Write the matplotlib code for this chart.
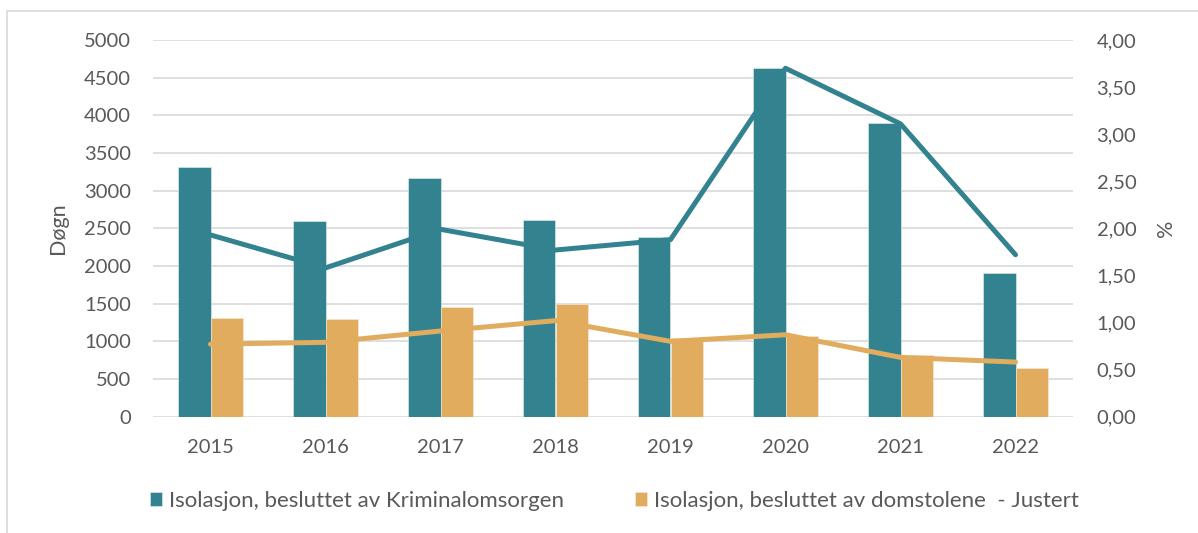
import matplotlib
matplotlib.use("Agg")
import matplotlib.pyplot as plt
from matplotlib.patches import Rectangle
from matplotlib.ticker import FuncFormatter, MultipleLocator
import numpy as np

years = ["2015", "2016", "2017", "2018", "2019", "2020", "2021", "2022"]
kriminal_days = [3310, 2595, 3170, 2615, 2385, 4625, 3895, 1910]
domstol_days = [1305, 1300, 1450, 1500, 1040, 1075, 820, 645]
kriminal_pct = [1.93, 1.58, 1.99, 1.77, 1.88, 3.70, 3.11, 1.72]
domstol_pct = [0.77, 0.79, 0.91, 1.02, 0.80, 0.87, 0.63, 0.58]

label_k = "Isolasjon, besluttet av Kriminalomsorgen"
label_d = "Isolasjon, besluttet av domstolene  - Justert"

teal = "#32838F"
orange = "#E2AC5E"
txt = "#595959"
grid = "#D9D9D9"

plt.rcParams["font.family"] = ["Lato", "DejaVu Sans"]

fig = plt.figure(figsize=(11.98, 5.33), dpi=100)
fig.patches.append(Rectangle((7/1198, -0.1), 1.2, 1 - 11/533 + 0.1, transform=fig.transFigure,
                             fill=False, edgecolor=grid, linewidth=1.2))
ax = fig.add_axes([153/1198, 116.3/533, 920/1198, 376.7/533])
ax2 = ax.twinx()

x = np.arange(len(years))
w = 0.285
ax.bar(x - w/2, kriminal_days, w, color=teal, edgecolor="#E8F0F1", linewidth=0.4, label=label_k, zorder=2)
ax.bar(x + w/2, domstol_days, w, color=orange, edgecolor="#F5EBDD", linewidth=0.4, label=label_d, zorder=2)

ax2.plot(x, kriminal_pct, color=teal, linewidth=3.6, solid_capstyle="round", solid_joinstyle="round", zorder=3)
ax2.plot(x, domstol_pct, color=orange, linewidth=3.6, solid_capstyle="round", solid_joinstyle="round", zorder=3)

ax.set_xlim(-0.5, len(years) - 0.5)
ax.set_ylim(0, 5000)
ax2.set_ylim(0, 4)
ax.yaxis.set_major_locator(MultipleLocator(500))
ax2.yaxis.set_major_locator(MultipleLocator(0.5))
ax2.yaxis.set_major_formatter(FuncFormatter(lambda v, p: f"{v:.2f}".replace(".", ",")))
ax.set_xticks(x)
ax.set_xticklabels(years)

ax.grid(axis="y", color=grid, linewidth=1.2, zorder=0)
ax.set_axisbelow(True)
for a in (ax, ax2):
    for s in a.spines.values():
        s.set_visible(False)
    a.tick_params(length=0, labelsize=14.5, labelcolor=txt)
ax.tick_params(axis="y", pad=16)
ax2.tick_params(axis="y", pad=17)
ax.tick_params(axis="x", pad=16)

ax.set_ylabel("Døgn", fontsize=15.5, color=txt)
ax.yaxis.set_label_coords(-0.092, 0.50)
ax2.set_ylabel("%", fontsize=15.5, color=txt)
ax2.yaxis.set_label_coords(1.090, 0.50)

ax.set_zorder(1)
ax2.set_zorder(2)
ax.patch.set_visible(False)
ax2.patch.set_visible(False)

h, l = ax.get_legend_handles_labels()
fig.legend(h, l, loc="center", bbox_to_anchor=(0.513, 32/533), ncol=2, frameon=False,
           fontsize=16, labelcolor=txt, handlelength=0.55, handleheight=0.55,
           handletextpad=0.3, columnspacing=3.2)

fig.savefig("out.png", dpi=100)
